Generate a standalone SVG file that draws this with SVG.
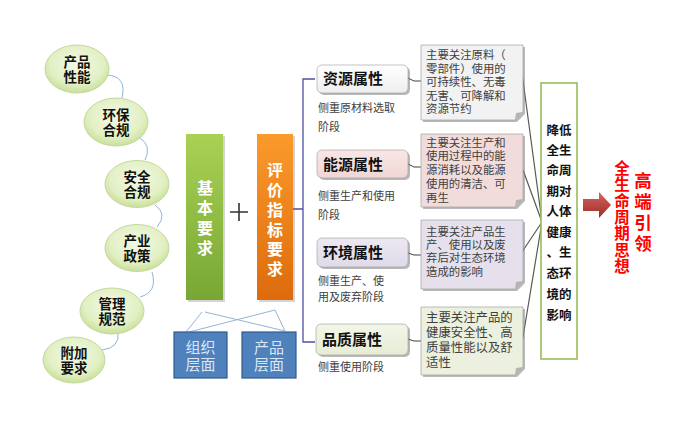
<svg xmlns="http://www.w3.org/2000/svg" width="694" height="426" viewBox="0 0 694 426">
<defs>
<radialGradient id="gOval" cx="50%" cy="40%" r="60%">
<stop offset="0" stop-color="#f3f9e4"/>
<stop offset="0.7" stop-color="#e2f0c4"/>
<stop offset="1" stop-color="#c9df98"/>
</radialGradient>
<linearGradient id="gGreen" x1="0" y1="0" x2="0" y2="1">
<stop offset="0" stop-color="#a9d154"/>
<stop offset="1" stop-color="#78a735"/>
</linearGradient>
<linearGradient id="gOrange" x1="0" y1="0" x2="0" y2="1">
<stop offset="0" stop-color="#fb9a2c"/>
<stop offset="1" stop-color="#dd6b0c"/>
</linearGradient>
<linearGradient id="gArrow" x1="0" y1="0" x2="0" y2="1">
<stop offset="0" stop-color="#d9625e"/>
<stop offset="1" stop-color="#9b2d2a"/>
</linearGradient>
<linearGradient id="gA1" x1="0" y1="0" x2="0" y2="1"><stop offset="0" stop-color="#ffffff"/><stop offset="1" stop-color="#eeeeee"/></linearGradient>
<linearGradient id="gA2" x1="0" y1="0" x2="0" y2="1"><stop offset="0" stop-color="#f9e6e6"/><stop offset="1" stop-color="#f0d6d5"/></linearGradient>
<linearGradient id="gA3" x1="0" y1="0" x2="0" y2="1"><stop offset="0" stop-color="#ece8f2"/><stop offset="1" stop-color="#e0dae9"/></linearGradient>
<linearGradient id="gA4" x1="0" y1="0" x2="0" y2="1"><stop offset="0" stop-color="#f2f6e8"/><stop offset="1" stop-color="#e6edd6"/></linearGradient>
</defs>
<style>
text{font-family:"Liberation Sans","Noto Sans CJK SC",sans-serif;}
.vert{writing-mode:vertical-rl;text-anchor:middle;font-family:"Noto Sans CJK SC",sans-serif;}
.oval{fill:url(#gOval);stroke:#c4d89e;stroke-width:1;}
.ot{font-size:13.5px;font-weight:bold;fill:#111;text-anchor:middle;}
.vt{font-size:16px;font-weight:bold;fill:#fff;}
.blue{fill:#4f81bd;stroke:#2f5b8f;stroke-width:1.2;}
.bt{font-size:15px;fill:#dbe6f4;text-anchor:middle;}
.shadow{fill:#7f7f7f;opacity:0.55;}
.attr{stroke:#9a9a9a;stroke-width:0.6;}
.at{font-size:15px;font-weight:bold;fill:#111;}
.st{font-size:11px;fill:#404040;}
.desc{stroke:#a0a0a0;stroke-width:0.7;}
.fold{fill:#b5b5b5;}
.dt{font-size:11.4px;fill:#404040;}
.dt4{font-size:12.4px;fill:#404040;}
.rt{font-size:12.5px;font-weight:bold;fill:#111;text-anchor:middle;}
.red1{font-size:15.5px;font-weight:bold;fill:#ff0000;letter-spacing:0.8px;}
.red2{font-size:17.5px;font-weight:bold;fill:#ff0000;letter-spacing:3.2px;}
.oc{fill:none;stroke:#95b3d7;stroke-width:1;}
.cross{fill:none;stroke:#95b3d7;stroke-width:1;}
.brk{fill:none;stroke:#4f4fa3;stroke-width:1.3;}
.tick{fill:none;stroke:#404040;stroke-width:1;}
.conv{fill:none;stroke:#595959;stroke-width:1.2;}
</style>

<g id="connectors">
<path class="oc" d="M107,75 Q127,76 122,98"/>
<path class="oc" d="M140,138 Q152,146 145,160"/>
<path class="oc" d="M155,205 Q168,214 157,227"/>
<path class="oc" d="M152,272 Q158,292 140,297"/>
<path class="oc" d="M118,332 Q120,348 102,350"/>
<path class="cross" d="M186,332 L202,312 M205,312 L285,331 M275,310 L285,331 M275,310 L189,332"/>
<path class="brk" d="M293,209 H303 M315,79 H303 V342 H315"/>
<path class="tick" d="M408,78 L414,81 H421"/>
<path class="tick" d="M408,164 L414,167 H421"/>
<path class="tick" d="M408,253 L414,255 H421"/>
<path class="tick" d="M408,339 L414,341 H421"/>
<path class="conv" d="M522,73 L542,222 M523,170 L542,222 M522,252 L542,222 M522,343 L542,222"/>
</g>

<g id="oval1"><ellipse class="oval" cx="77" cy="69" rx="32" ry="24"/><text class="ot"><tspan x="77" y="66.8">产品</tspan><tspan x="77" y="82.2">性能</tspan></text></g>
<g id="oval2"><ellipse class="oval" cx="116" cy="122" rx="32" ry="24"/><text class="ot"><tspan x="116" y="119.8">环保</tspan><tspan x="116" y="135.2">合规</tspan></text></g>
<g id="oval3"><ellipse class="oval" cx="137" cy="184" rx="32" ry="23.5"/><text class="ot"><tspan x="137" y="181.8">安全</tspan><tspan x="137" y="197.2">合规</tspan></text></g>
<g id="oval4"><ellipse class="oval" cx="137" cy="248" rx="32" ry="23.5"/><text class="ot"><tspan x="137" y="245.8">产业</tspan><tspan x="137" y="261.2">政策</tspan></text></g>
<g id="oval5"><ellipse class="oval" cx="112" cy="311" rx="32" ry="23"/><text class="ot"><tspan x="112" y="308.8">管理</tspan><tspan x="112" y="324.2">规范</tspan></text></g>
<g id="oval6"><ellipse class="oval" cx="74" cy="360" rx="31" ry="23"/><text class="ot"><tspan x="74" y="357.8">附加</tspan><tspan x="74" y="373.2">要求</tspan></text></g>

<g id="basic">
<rect x="188" y="136" width="37" height="166" fill="#6f6f6f" opacity="0.3"/>
<rect x="186" y="134" width="37" height="166" fill="url(#gGreen)"/>
<text class="vt vert" x="205" y="220" style="letter-spacing:4px">基本要求</text>
</g>
<g id="plus"><path d="M230,212 H248 M239,203 V221" stroke="#333" stroke-width="1.6" fill="none"/></g>
<g id="index">
<rect x="259" y="136" width="36" height="166" fill="#6f6f6f" opacity="0.3"/>
<rect x="257" y="134" width="36" height="166" fill="url(#gOrange)"/>
<text class="vt vert" x="275" y="221.5" style="letter-spacing:3.8px">评价指标要求</text>
</g>

<g id="org"><rect class="blue" x="174" y="332" width="53" height="46"/><text class="bt"><tspan x="200.5" y="353">组织</tspan><tspan x="200.5" y="370">层面</tspan></text></g>
<g id="prod"><rect class="blue" x="242" y="332" width="54" height="46"/><text class="bt"><tspan x="269" y="353">产品</tspan><tspan x="269" y="370">层面</tspan></text></g>

<g id="attr1">
<rect class="shadow" x="319" y="67" width="91" height="28" rx="5"/>
<rect class="attr" x="317" y="65" width="91" height="28" rx="5" fill="url(#gA1)"/>
<text class="at" x="323" y="84">资源属性</text>
<text class="st"><tspan x="318" y="112">侧重原材料选取</tspan><tspan x="318" y="131">阶段</tspan></text>
</g>
<g id="attr2">
<rect class="shadow" x="319" y="152" width="91" height="28" rx="5"/>
<rect class="attr" x="317" y="150" width="91" height="28" rx="5" fill="url(#gA2)"/>
<text class="at" x="323" y="170">能源属性</text>
<text class="st"><tspan x="318" y="200">侧重生产和使用</tspan><tspan x="318" y="219">阶段</tspan></text>
</g>
<g id="attr3">
<rect class="shadow" x="319" y="240" width="91" height="29" rx="5"/>
<rect class="attr" x="317" y="238" width="91" height="29" rx="5" fill="url(#gA3)"/>
<text class="at" x="323" y="258">环境属性</text>
<text class="st"><tspan x="318" y="285">侧重生产、使</tspan><tspan x="318" y="301">用及废弃阶段</tspan></text>
</g>
<g id="attr4">
<rect class="shadow" x="318" y="326" width="92" height="31" rx="5"/>
<rect class="attr" x="316" y="324" width="92" height="31" rx="5" fill="url(#gA4)"/>
<text class="at" x="322" y="345">品质属性</text>
<text class="st" x="318" y="371">侧重使用阶段</text>
</g>

<g id="desc1">
<path class="shadow" d="M423,47 H525 V114 L517,122 H423 Z"/>
<path class="desc" d="M421,45 H523 V112 L515,120 H421 Z" fill="#f2f2f2"/>
<path class="fold" d="M523,112 L515,120 L516,113 Z"/>
<text class="dt"><tspan x="426" y="59">主要关注原料（</tspan><tspan x="426" y="72.5">零部件）使用的</tspan><tspan x="426" y="86">可持续性、无毒</tspan><tspan x="426" y="99.5">无害、可降解和</tspan><tspan x="426" y="113">资源节约</tspan></text>
</g>
<g id="desc2">
<path class="shadow" d="M423,136 H525 V201 L517,209 H423 Z"/>
<path class="desc" d="M421,134 H523 V199 L515,207 H421 Z" fill="#f2dcdb"/>
<path class="fold" d="M523,199 L515,207 L516,200 Z"/>
<text class="dt"><tspan x="426" y="146.5">主要关注生产和</tspan><tspan x="426" y="160.3">使用过程中的能</tspan><tspan x="426" y="174.1">源消耗以及能源</tspan><tspan x="426" y="187.9">使用的清洁、可</tspan><tspan x="426" y="201.7">再生</tspan></text>
</g>
<g id="desc3">
<path class="shadow" d="M423,222 H525 V283 L517,291 H423 Z"/>
<path class="desc" d="M421,220 H523 V281 L515,289 H421 Z" fill="#e5e0ec"/>
<path class="fold" d="M523,281 L515,289 L516,282 Z"/>
<text class="dt"><tspan x="426" y="236">主要关注产品生</tspan><tspan x="426" y="249.2">产、使用以及废</tspan><tspan x="426" y="262.4">弃后对生态环境</tspan><tspan x="426" y="275.6">造成的影响</tspan></text>
</g>
<g id="desc4">
<path class="shadow" d="M423,309 H525 V369 L517,377 H423 Z"/>
<path class="desc" d="M421,307 H523 V367 L515,375 H421 Z" fill="#ebf1de"/>
<path class="fold" d="M523,367 L515,375 L516,368 Z"/>
<text class="dt4"><tspan x="426" y="321.5">主要关注产品的</tspan><tspan x="426" y="336.5">健康安全性、高</tspan><tspan x="426" y="351.5">质量性能以及舒</tspan><tspan x="426" y="366.5">适性</tspan></text>
</g>

<g id="result">
<rect x="541" y="83" width="36" height="276" fill="#fff" stroke="#9bbb59" stroke-width="1.6"/>
<text class="rt"><tspan x="559" y="135">降低</tspan><tspan x="559" y="155">全生</tspan><tspan x="559" y="175">命周</tspan><tspan x="559" y="195.5">期对</tspan><tspan x="559" y="216">人体</tspan><tspan x="559" y="237">健康</tspan><tspan x="559" y="257">、生</tspan><tspan x="559" y="278">态环</tspan><tspan x="559" y="299">境的</tspan><tspan x="559" y="320">影响</tspan></text>
</g>

<g id="arrow"><path d="M583,199 H599 V192 L611,205 L599,218 V211 H583 Z" fill="url(#gArrow)"/></g>

<g id="idea">
<text class="red1 vert" x="622" y="217.5">全生命周期思想</text>
</g>
<g id="lead">
<text class="red2 vert" x="643" y="213.5">高端引领</text>
</g>
</svg>
